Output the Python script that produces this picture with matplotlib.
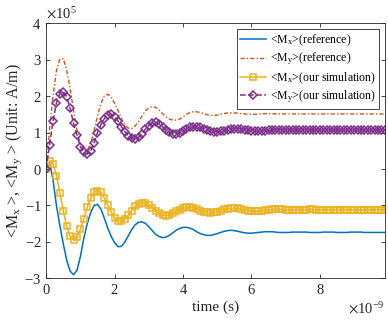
import numpy as np
import matplotlib
matplotlib.use('Agg')
import matplotlib.pyplot as plt

plt.rcParams['font.family'] = ['Liberation Serif', 'DejaVu Serif']
plt.rcParams['mathtext.fontset'] = 'stix'

# time samples in ns (every 0.1 ns)
t_ns = np.round(np.arange(0, 10, 0.1), 1)

# values in units of 1e5 A/m
mx_ref = [0.00, 0.18, -0.30, -1.00, -1.55, -2.05, -2.50, -2.80, -2.90, -2.78,
          -2.40, -1.90, -1.50, -1.20, -1.00, -0.97, -1.10, -1.35, -1.62, -1.85,
          -2.02, -2.13, -2.12, -2.00, -1.83, -1.66, -1.53, -1.46, -1.45, -1.49,
          -1.58, -1.69, -1.79, -1.85, -1.88, -1.87, -1.82, -1.75, -1.68, -1.63,
          -1.60, -1.60, -1.62, -1.66, -1.72, -1.77, -1.80, -1.82, -1.82, -1.80,
          -1.77, -1.74, -1.71, -1.69, -1.68, -1.69, -1.71, -1.73, -1.75, -1.76,
          -1.76, -1.75, -1.74, -1.73, -1.72, -1.72, -1.72, -1.73, -1.74, -1.74,
          -1.74, -1.74, -1.73, -1.73, -1.73, -1.73, -1.73, -1.74, -1.74, -1.74,
          -1.74, -1.73, -1.73, -1.73, -1.73, -1.74, -1.74, -1.74, -1.74, -1.73,
          -1.73, -1.73, -1.73, -1.74, -1.74, -1.74, -1.74, -1.74, -1.74, -1.74]

my_ref = [0.00, 1.10, 2.00, 2.70, 3.02, 3.02, 2.72, 2.20, 1.60, 1.05,
          0.68, 0.50, 0.50, 0.70, 1.05, 1.45, 1.80, 2.00, 2.05, 1.98,
          1.80, 1.60, 1.38, 1.20, 1.12, 1.11, 1.18, 1.30, 1.45, 1.60,
          1.68, 1.71, 1.69, 1.62, 1.52, 1.43, 1.37, 1.34, 1.34, 1.37,
          1.43, 1.50, 1.55, 1.57, 1.57, 1.55, 1.52, 1.49, 1.47, 1.47,
          1.48, 1.50, 1.52, 1.54, 1.54, 1.54, 1.53, 1.52, 1.51, 1.50,
          1.50, 1.50, 1.51, 1.51, 1.52, 1.52, 1.52, 1.51, 1.51, 1.51,
          1.51, 1.51, 1.51, 1.51, 1.51, 1.51, 1.51, 1.51, 1.51, 1.51,
          1.51, 1.51, 1.51, 1.51, 1.51, 1.51, 1.51, 1.51, 1.51, 1.51,
          1.51, 1.51, 1.51, 1.51, 1.51, 1.51, 1.51, 1.51, 1.51, 1.51]

mx_sim = [0.00, 0.22, 0.14, -0.18, -0.65, -1.15, -1.57, -1.85, -1.95, -1.87,
          -1.65, -1.36, -1.05, -0.80, -0.64, -0.59, -0.64, -0.80, -0.99, -1.18,
          -1.34, -1.42, -1.43, -1.38, -1.27, -1.14, -1.02, -0.96, -0.92, -0.93,
          -1.00, -1.07, -1.15, -1.22, -1.26, -1.28, -1.26, -1.22, -1.16, -1.12,
          -1.08, -1.05, -1.05, -1.07, -1.10, -1.14, -1.17, -1.19, -1.20, -1.19,
          -1.17, -1.14, -1.11, -1.09, -1.08, -1.08, -1.08, -1.10, -1.12, -1.14,
          -1.15, -1.16, -1.16, -1.15, -1.13, -1.12, -1.11, -1.10, -1.10, -1.11,
          -1.12, -1.12, -1.13, -1.12, -1.12, -1.12, -1.12, -1.11, -1.11, -1.12,
          -1.12, -1.12, -1.12, -1.12, -1.12, -1.12, -1.12, -1.12, -1.12, -1.12,
          -1.12, -1.12, -1.12, -1.12, -1.12, -1.12, -1.12, -1.12, -1.12, -1.12]

my_sim = [0.00, 0.66, 1.31, 1.82, 2.07, 2.12, 1.98, 1.66, 1.25, 0.92,
          0.61, 0.46, 0.41, 0.50, 0.72, 1.00, 1.22, 1.38, 1.48, 1.50,
          1.42, 1.32, 1.16, 1.02, 0.91, 0.84, 0.82, 0.87, 0.97, 1.09,
          1.19, 1.26, 1.28, 1.24, 1.16, 1.08, 1.01, 0.97, 0.96, 0.99,
          1.04, 1.10, 1.14, 1.16, 1.16, 1.14, 1.11, 1.07, 1.04, 1.02,
          1.02, 1.03, 1.05, 1.08, 1.10, 1.11, 1.11, 1.10, 1.08, 1.06,
          1.05, 1.04, 1.04, 1.04, 1.05, 1.06, 1.07, 1.08, 1.08, 1.07,
          1.07, 1.07, 1.07, 1.07, 1.07, 1.07, 1.07, 1.07, 1.07, 1.07,
          1.07, 1.07, 1.07, 1.07, 1.07, 1.07, 1.07, 1.07, 1.07, 1.07,
          1.07, 1.07, 1.07, 1.07, 1.07, 1.07, 1.07, 1.07, 1.07, 1.07]

t = t_ns * 1e-9
s = 1e5

fig = plt.figure(figsize=(3.88, 3.26), dpi=100)
ax = fig.add_axes([0.119, 0.146, 0.873, 0.783])

ax.plot(t, np.array(mx_ref) * s, '-', color='#0072BD', lw=1.1,
        label=r'<M$_\mathregular{x}$>(reference)')
ax.plot(t, np.array(my_ref) * s, color='#D95319', lw=1.0, dashes=(3, 1.5, 1, 1.5),
        label=r'<M$_\mathregular{y}$>(reference)')
ax.plot(t, np.array(mx_sim) * s, '-', color='#EDB120', lw=1.1, marker='s',
        ms=3.8, mfc='none', mew=1.1,
        label=r'<M$_\mathregular{x}$>(our simulation)')
ax.plot(t, np.array(my_sim) * s, '--', color='#7E2F8E', lw=1.1, marker='D',
        ms=3.8, mfc='none', mew=1.1,
        label=r'<M$_\mathregular{y}$>(our simulation)')

ax.set_xlim(0, 9.9e-9)
ax.set_ylim(-3e5, 4e5)
ax.set_xticks(np.array([0, 2, 4, 6, 8]) * 1e-9)
ax.set_yticks(np.arange(-3, 5) * s)
ax.ticklabel_format(axis='both', style='sci', scilimits=(0, 0), useMathText=True)
ax.tick_params(direction='in', top=True, right=True, labelsize=10.5,
               length=3, width=0.6, color='#262626', labelcolor='#262626')
for sp in ax.spines.values():
    sp.set_linewidth(0.6)
    sp.set_color('#262626')
ax.yaxis.get_offset_text().set_fontsize(10.5)
ax.xaxis.get_offset_text().set_fontsize(10.5)

ax.set_xlabel('time (s)', fontsize=11, color='#262626', labelpad=2)
ax.set_ylabel(r'<M$_\mathregular{x}$ >, <M$_\mathregular{y}$ > (Unit: A/m)',
              fontsize=11.5, color='#262626', labelpad=0)

leg = ax.legend(loc='upper right', fontsize=8.5, fancybox=False, framealpha=1,
                edgecolor='#262626', handlelength=2.2, handletextpad=0.3,
                borderpad=0.3, labelspacing=0.25, borderaxespad=0.5)
leg.get_frame().set_linewidth(0.6)

fig.savefig('out.png', dpi=100)
